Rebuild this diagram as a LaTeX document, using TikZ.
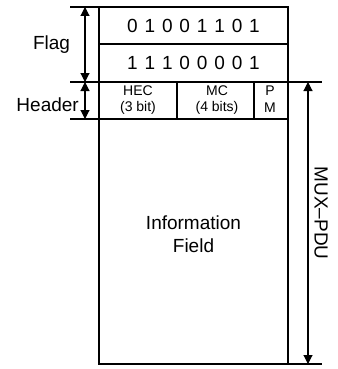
\documentclass[tikz,border=0pt]{standalone}
\usepackage{fontspec}
\setmainfont{Liberation Sans}
\newfontfamily\bitfont[WordSpace=1.3]{Liberation Sans}
\usetikzlibrary{arrows.meta}
\tikzset{
    frame/.style={line width=1.6pt},
    extline/.style={line width=1.1pt},
    dimarrow/.style={{Triangle[length=9pt,width=9pt]}-{Triangle[length=9pt,width=9pt]}, line width=1.1pt},
    bigtext/.style={font=\fontsize{19}{23.4}\selectfont, align=center},
    smalltext/.style={font=\fontsize{14}{16.5}\selectfont, align=center, inner sep=0pt},
    bits/.style={font=\bitfont\fontsize{19}{23}\selectfont, anchor=base},
}
\begin{document}
\begin{tikzpicture}[x=1pt, y=-1pt]
    \useasboundingbox (0,0) rectangle (337,369);

    % ends of the size arrows
    \coordinate (flagtop) at (85,7);
    \coordinate (flagbot) at (85,82);
    \coordinate (hdrbot) at (85,119);
    \coordinate (pdutop) at (308,82);
    \coordinate (pdubot) at (308,364);

    \draw[frame] (99,7) rectangle (288,364);
    \draw[frame] (99,44) -- (288,44);
    \draw[frame] (99,82) -- (288,82);
    \draw[frame] (99,119) -- (288,119);
    \draw[frame] (177,82) -- (177,119);
    \draw[frame] (254,82) -- (254,119);

    \draw[extline] (70,7) -- (99,7);
    \draw[extline] (70,82) -- (99,82);
    \draw[extline] (70,119) -- (99,119);
    \draw[extline] (288,82) -- (322,82);
    \draw[extline] (288,364) -- (322,364);

    \draw[dimarrow] (flagtop) -- (flagbot);
    \draw[dimarrow] (flagbot) -- (hdrbot);
    \draw[dimarrow] (pdutop) -- (pdubot);

    \node[bits] (row1) at (193.5,33) {0 1 0 0 1 1 0 1};
    \node[bits] (row2) at (193.5,70) {1 1 1 0 0 0 0 1};

    \node[smalltext] (hec) at (138,100) {HEC\\(3 bit)};
    \node[smalltext] (mc) at (217,100) {MC\\(4 bits)};
    \node[smalltext] (pm) at (270,99) {P\\M};

    \node[bigtext, anchor=base] (flag) at (51.5,49.5) {Flag};
    \node[bigtext, anchor=base east, inner sep=0pt] (header) at (79,111) {Header};
    \node[bigtext] (info) at (193.5,234) {Information\\Field};
    \node[bigtext, rotate=-90] (pdu) at (321,213) {MUX--PDU};
\end{tikzpicture}
\end{document}
